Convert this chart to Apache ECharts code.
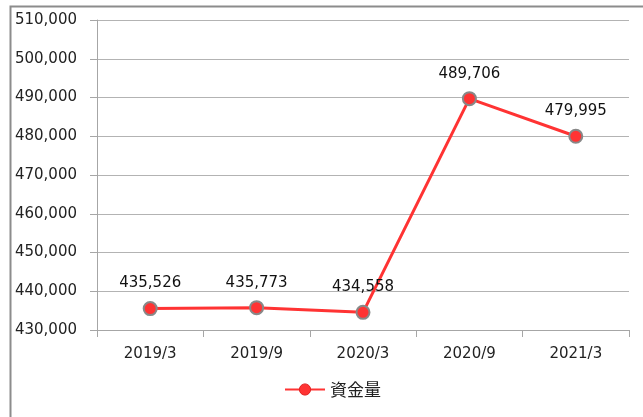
<!DOCTYPE html>
<html><head><meta charset="utf-8">
<script src="https://cdn.jsdelivr.net/npm/echarts@6/dist/echarts.min.js"></script>
<style>html,body{margin:0;padding:0;background:#fff}#c{width:643px;height:417px}</style>
</head><body><div id="c"></div>
<script>
const categories = ['2019/3','2019/9','2020/3','2020/9','2021/3'];
const values = [435526, 435773, 434558, 489706, 479995];
const seriesName = '資金量';
const yMin = 430000, yMax = 510000, yStep = 10000;

const chart = echarts.init(document.getElementById('c'));
const font = '"DejaVu Sans", sans-serif';
chart.setOption({
  animation: false,
  graphic: [{type:'rect', shape:{x:10.5,y:6.5,width:700,height:500}, style:{fill:'none', stroke:'#8c8c8c', lineWidth:2}, silent:true}],
  grid: {left: 97, right: 14, top: 20, bottom: 87},
  legend: {bottom: 14, left: 279, itemWidth: 40, itemHeight: 14, itemGap: 10,
    textStyle:{fontSize:17, color:'#222', fontFamily: '"Noto Sans CJK JP", sans-serif'},
    data:[{name: seriesName, itemStyle:{borderColor:'#e02020', borderWidth:1}}]},
  xAxis: {type:'category', data: categories, boundaryGap: true,
    axisLine:{lineStyle:{color:'#a6a6a6'}},
    axisTick:{show:true, length:7, lineStyle:{color:'#a6a6a6'}},
    axisLabel:{fontSize:15, color:'#222', margin:17, fontFamily: font}},
  yAxis: {type:'value', min:yMin, max:yMax, interval:yStep,
    axisLine:{show:true, lineStyle:{color:'#a6a6a6'}},
    axisTick:{show:true, length:7, lineStyle:{color:'#a6a6a6'}},
    splitLine:{lineStyle:{color:'#b3b3b3'}},
    axisLabel:{fontSize:15, color:'#222', margin:20, fontFamily: font,
      formatter: v => v.toLocaleString('en-US')}},
  series: [{name: seriesName, type:'line', data: values,
    symbol:'circle', symbolSize:13,
    lineStyle:{color:'#ff3333', width:3},
    itemStyle:{color:'#ff3333', borderColor:'#888', borderWidth:2},
    label:{show:true, position:'top', distance:10, fontSize:15, color:'#111', fontFamily: font,
      formatter: p => p.value.toLocaleString('en-US')}}]
});
</script></body></html>
